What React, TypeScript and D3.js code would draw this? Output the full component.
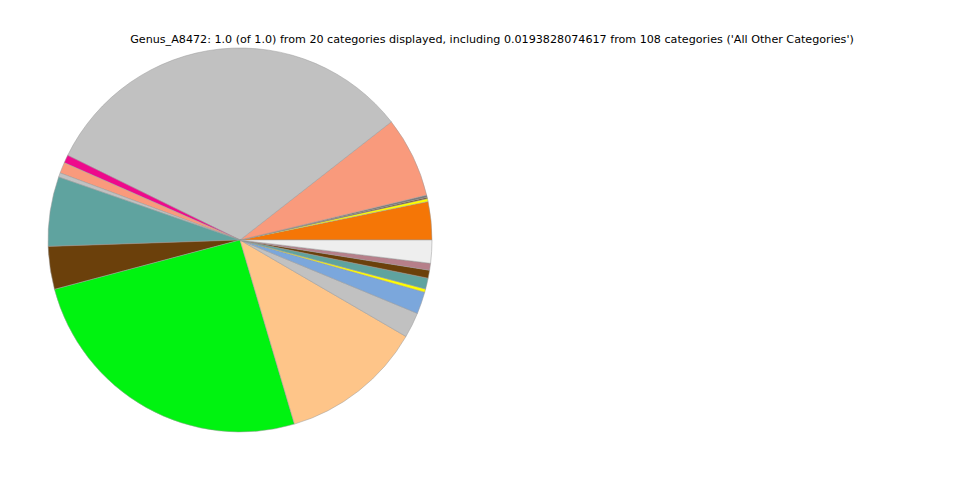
import * as d3 from 'd3';

// Slice fractions, counterclockwise from 3 o'clock (matplotlib order)
const sliceValues = [
  0.0322, 0.0025, 0.0011, 0.0018, 0.0681, 0.3222, 0.0067, 0.0092, 0.0036, 0.0586,
  0.0361, 0.2547, 0.1206, 0.0214, 0.0186, 0.0028, 0.0092, 0.0067, 0.0058, 0.0194,
];

const sliceColors = [
  '#f57606', '#ffff00', '#6b400b', '#7a7a7a', '#f99a7c', '#c1c1c1', '#ee0a8c', '#f99a7c', '#c1c1c1', '#5fa39f',
  '#6b400b', '#00f310', '#fec589', '#c1c1c1', '#7ba7dc', '#ffff00', '#5fa39f', '#6b400b', '#b67f8a', '#eeeeee',
];

const title =
  "Genus_A8472: 1.0 (of 1.0) from 20 categories displayed, including 0.0193828074617 from 108 categories ('All Other Categories')";

export default function App() {
  const width = 960;
  const height = 480;
  const cx = 240;
  const cy = 240;
  const radius = 192;

  const pie = d3.pie<number>().sort(null).value(d => d);
  const arcs = pie(sliceValues);
  const arc = d3.arc<any>().innerRadius(0).outerRadius(radius);

  return (
    <div style={{ position: 'absolute', left: 0, top: 0 }}>
      <svg width={width} height={height} style={{ display: 'block', background: '#fff' }}>
        <g transform={`translate(${cx},${cy})`}>
          {arcs.map((a, i) => (
            <path
              key={i}
              d={arc({ startAngle: Math.PI / 2 - a.startAngle, endAngle: Math.PI / 2 - a.endAngle }) || ''}
              fill={sliceColors[i]}
              stroke="#9a9a9a"
              strokeWidth={0.5}
            />
          ))}
        </g>
        <text
          x={492}
          y={43}
          textAnchor="middle"
          style={{ fontFamily: 'DejaVu Sans', fontSize: '11.15px' }}
          fill="#000"
        >
          {title}
        </text>
      </svg>
    </div>
  );
}
